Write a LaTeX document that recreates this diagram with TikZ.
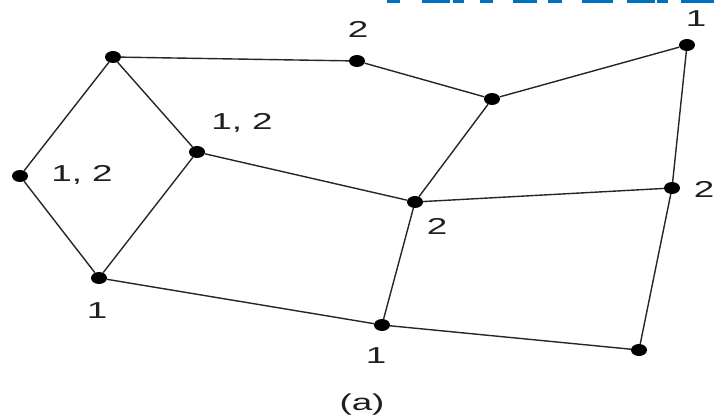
\documentclass[tikz,border=0pt]{standalone}
\usepackage{fontspec}
\setmainfont{Liberation Sans}
\usetikzlibrary{shapes.geometric}
\definecolor{wmblue}{RGB}{0,112,192}
\newcommand{\lbl}[1]{\scalebox{1.6}[1]{\fontsize{23}{23}\selectfont #1}}
\tikzset{
  vtx/.style={ellipse, fill=black, draw=none, minimum width=16pt, minimum height=12pt, inner sep=0pt},
  edge/.style={draw=black!85, line width=1.4pt},
  lab/.style={inner sep=0pt, anchor=base, text=black!88},
  wm/.style={fill=wmblue, draw=none}
}
\begin{document}
\begin{tikzpicture}[x=1pt,y=-1pt]
\useasboundingbox (0,0) rectangle (718,419);
\fill[white] (0,0) rectangle (718,419);
% watermark fragments at top edge
\foreach \a/\b in {387/400,422/450,453/464,480/493,513/537,548/562,582/613,627/655,657/668,681/714}
  \fill[wm] (\a,0) rectangle (\b,3);
% vertices
\node[vtx] (A) at (113,57) {};
\node[vtx] (B) at (20,176) {};
\node[vtx] (C) at (197,152) {};
\node[vtx] (D) at (99,278) {};
\node[vtx] (E) at (357,61) {};
\node[vtx] (F) at (492,99) {};
\node[vtx] (G) at (687,45) {};
\node[vtx] (H) at (415,202) {};
\node[vtx] (I) at (672,188) {};
\node[vtx] (J) at (382,325) {};
\node[vtx] (K) at (639,350) {};
% edges
\foreach \u/\v in {A/E,E/F,F/G,G/I,A/B,A/C,B/D,C/D,C/H,F/H,H/I,H/J,D/J,J/K,I/K}
  \draw[edge] (\u) -- (\v);
% labels
\node[lab] (lE) at (358,38) {\lbl{2}};
\node[lab] (lG) at (696,27) {\lbl{1}};
\node[lab] (lC) at (242,130) {\lbl{1, 2}};
\node[lab] (lB) at (82,182) {\lbl{1, 2}};
\node[lab] (lD) at (97,319) {\lbl{1}};
\node[lab] (lH) at (437,235) {\lbl{2}};
\node[lab] (lI) at (704,198) {\lbl{2}};
\node[lab] (lJ) at (376,364) {\lbl{1}};
\node[lab] (cap) at (362,411) {\lbl{(a)}};
\end{tikzpicture}
\end{document}
